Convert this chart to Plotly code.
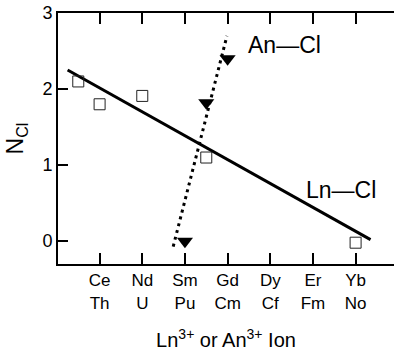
import plotly.graph_objects as go

# Atomic-number style positions (Ln series; An aligned below)
tick_vals = [58, 60, 62, 64, 66, 68, 70]
tick_text = ["Ce<br>Th", "Nd<br>U", "Sm<br>Pu", "Gd<br>Cm", "Dy<br>Cf", "Er<br>Fm", "Yb<br>No"]

ln_x = [57, 58, 60, 63, 70]
ln_y = [2.10, 1.80, 1.91, 1.10, -0.02]

an_x = [62, 63, 64]
an_y = [0.0, 1.82, 2.40]

ln_fit_x = [56.5, 70.7]
ln_fit_y = [2.25, 0.02]

an_fit_x = [61.45, 63.97]
an_fit_y = [-0.07, 2.70]

FONT = "Liberation Sans, Arial, Helvetica, sans-serif"

fig = go.Figure()
fig.add_trace(go.Scatter(x=ln_fit_x, y=ln_fit_y, mode="lines",
                         line=dict(color="black", width=3), hoverinfo="skip"))
fig.add_trace(go.Scatter(x=an_fit_x, y=an_fit_y, mode="lines",
                         line=dict(color="black", width=3, dash="3px,4px"), hoverinfo="skip"))
fig.add_trace(go.Scatter(x=ln_x, y=ln_y, mode="markers",
                         marker=dict(symbol="square-open", size=11, color="#222",
                                     line=dict(width=1, color="#222"))))
fig.add_trace(go.Scatter(x=an_x, y=an_y, mode="markers",
                         marker=dict(symbol="triangle-down", size=14, color="black")))

fig.add_annotation(x=66.65, y=2.58, text="An—Cl", showarrow=False,
                   font=dict(family=FONT, size=23, color="black"))
fig.add_annotation(x=69.32, y=0.675, text="Ln—Cl", showarrow=False,
                   font=dict(family=FONT, size=23, color="black"))

fig.update_layout(
    width=394, height=351,
    margin=dict(l=58, r=0, t=13, b=84),
    paper_bgcolor="white", plot_bgcolor="white",
    showlegend=False,
    font=dict(family=FONT, color="black", size=17),
    xaxis=dict(range=[56.05, 71.8], tickvals=tick_vals, ticktext=tick_text,
               ticks="inside", ticklen=11, tickwidth=1.5, tickcolor="black",
               showline=True, linewidth=2, linecolor="black", mirror="ticks",
               showgrid=False, zeroline=False,
               tickfont=dict(size=17),
               title=dict(text="Ln<sup>3+</sup> or An<sup>3+</sup> Ion",
                          font=dict(size=20), standoff=24)),
    yaxis=dict(range=[-0.3, 3.0], tickvals=[0, 1, 2, 3],
               ticks="inside", ticklen=10, tickwidth=1.5, tickcolor="black",
               showline=True, linewidth=2, linecolor="black", mirror=False,
               showgrid=False, zeroline=False,
               tickfont=dict(size=18),
               title=dict(text="N<sub>Cl</sub>", font=dict(size=23), standoff=12)),
)

fig.write_html("out.html")
